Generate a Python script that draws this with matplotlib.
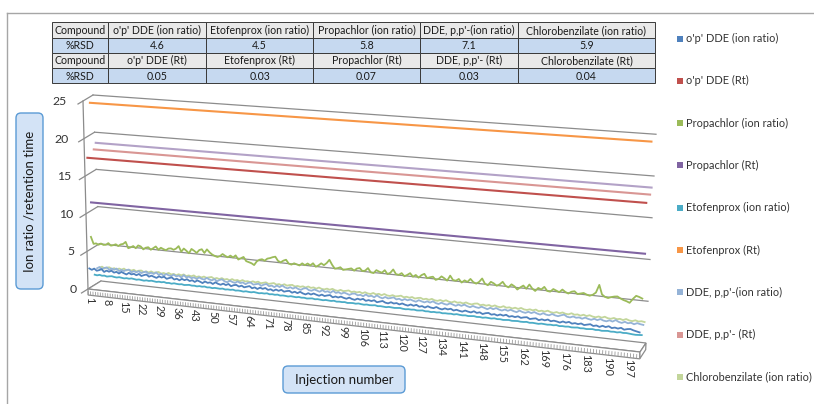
import numpy as np
import matplotlib
matplotlib.use("Agg")
import matplotlib.pyplot as plt
import matplotlib.transforms as mtransforms
from matplotlib.patches import Rectangle, FancyBboxPatch, Polygon
from matplotlib.collections import LineCollection

plt.rcParams['font.family'] = ['Lato', 'DejaVu Sans']

# ---- data ----
injections = np.arange(1, 201)

series_names = ["o'p' DDE (ion ratio)", "o'p' DDE (Rt)", "Propachlor (ion ratio)", "Propachlor (Rt)",
                "Etofenprox (ion ratio)", "Etofenprox (Rt)", "DDE, p,p'-(ion ratio)", "DDE, p,p'- (Rt)",
                "Chlorobenzilate (ion ratio)", "Chlorobenzilate (Rt)"]
series_colors = ['#4F81BD', '#C0504D', '#9BBB59', '#8064A2', '#4BACC6',
                 '#F79646', '#95B3D7', '#D99694', '#C3D69B', '#B3A2C7']

opdde_ion = [
    2.7, 2.55, 2.75, 2.5, 2.62, 2.78, 2.45, 2.66, 2.55, 2.72, 2.5, 2.64, 2.46, 2.7, 2.56, 2.44, 2.68, 2.52, 2.63, 2.48,
    2.68, 2.45, 2.6, 2.72, 2.47, 2.64, 2.52, 2.42, 2.66, 2.54, 2.68, 2.44, 2.58, 2.7, 2.46, 2.6, 2.43, 2.65, 2.52, 2.68,
    2.48, 2.62, 2.44, 2.67, 2.55, 2.4, 2.64, 2.5, 2.6, 2.43, 2.68, 2.52, 2.44, 2.62, 2.47, 2.65, 2.4, 2.57, 2.64, 2.46,
    2.62, 2.44, 2.55, 2.67, 2.43, 2.58, 2.41, 2.62, 2.5, 2.65, 2.44, 2.56, 2.4, 2.6, 2.47, 2.64, 2.44, 2.55, 2.62, 2.42,
    2.58, 2.44, 2.64, 2.48, 2.39, 2.58, 2.45, 2.62, 2.5, 2.41, 2.59, 2.45, 2.56, 2.64, 2.4, 2.54, 2.45, 2.6, 2.48, 2.41,
    2.59, 2.45, 2.38, 2.57, 2.48, 2.62, 2.41, 2.54, 2.46, 2.6, 2.39, 2.5, 2.62, 2.45, 2.4, 2.58, 2.46, 2.55, 2.42, 2.58,
    2.46, 2.39, 2.57, 2.45, 2.6, 2.41, 2.52, 2.38, 2.58, 2.46, 2.42, 2.6, 2.45, 2.38, 2.55, 2.46, 2.58, 2.4, 2.53, 2.44,
    2.38, 2.55, 2.46, 2.4, 2.58, 2.42, 2.53, 2.36, 2.5, 2.57, 2.4, 2.5, 2.38, 2.54, 2.44, 2.58, 2.39, 2.5, 2.42, 2.55,
    2.4, 2.5, 2.56, 2.38, 2.47, 2.54, 2.36, 2.5, 2.42, 2.56, 2.39, 2.5, 2.44, 2.35, 2.52, 2.42, 2.55, 2.38, 2.48, 2.4,
    2.52, 2.37, 2.46, 2.55, 2.38, 2.48, 2.35, 2.52, 2.41, 2.55, 2.37, 2.47, 2.39, 2.52, 2.34, 2.45, 2.5, 2.38, 2.3, 2.22]

propachlor_ion = [
    6.7, 5.8, 5.9, 5.75, 5.95, 5.8, 5.85, 6.1, 5.8, 5.9, 6.05, 5.85, 6.1, 6.2, 6.5, 5.7, 5.85, 6.05, 5.8, 6.2,
    6.1, 5.75, 6.0, 6.1, 5.8, 6.05, 6.3, 5.9, 6.2, 6.05, 5.95, 6.2, 6.25, 6.1, 6.3, 6.65, 5.95, 6.4, 6.15, 5.85,
    6.45, 6.25, 6.0, 6.4, 6.55, 6.1, 6.6, 6.25, 6.0, 5.85, 5.75, 5.9, 6.2, 6.0, 5.85, 6.1, 5.9, 6.2, 5.7, 5.9,
    6.1, 5.6, 5.5, 5.4, 5.2, 5.7, 5.95, 6.05, 5.9, 6.2, 6.3, 6.45, 6.55, 6.05, 5.9, 6.15, 6.3, 5.85, 5.75, 5.95,
    5.85, 5.75, 6.05, 5.85, 6.1, 5.9, 6.2, 5.8, 6.0, 6.3, 6.1, 6.4, 6.85, 6.25, 5.8, 5.9, 6.05, 5.75, 5.85, 5.95,
    6.05, 5.8, 6.1, 6.2, 5.85, 5.95, 6.3, 5.8, 5.75, 6.15, 6.0, 5.9, 6.25, 5.8, 6.0, 6.45, 5.9, 5.85, 6.1, 5.75,
    5.95, 6.2, 5.8, 6.05, 5.75, 6.1, 6.3, 5.8, 5.95, 6.05, 5.7, 5.85, 6.2, 6.0, 5.75, 6.4, 5.9, 5.85, 6.1, 5.7,
    6.0, 5.85, 6.25, 5.9, 5.75, 6.0, 6.45, 5.85, 5.7, 6.15, 6.0, 5.75, 5.95, 6.3, 5.85, 5.7, 6.1, 5.9, 5.55, 5.85,
    6.1, 5.75, 6.3, 5.85, 5.6, 6.0, 5.85, 6.2, 5.75, 5.7, 6.05, 5.9, 5.75, 6.1, 5.85, 5.7, 5.95, 6.05, 5.75, 5.85,
    5.95, 5.8, 5.7, 5.85, 6.15, 7.1, 6.0, 5.75, 5.65, 5.8, 5.9, 5.95, 5.75, 5.6, 5.5, 5.35, 5.85, 6.25, 6.15, 6.0]

etofenprox_ion = [
    1.45, 1.4, 1.5, 1.42, 1.47, 1.38, 1.45, 1.5, 1.43, 1.4, 1.48, 1.44, 1.39, 1.46, 1.42, 1.5, 1.45, 1.4, 1.47, 1.43,
    1.38, 1.46, 1.42, 1.49, 1.44, 1.4, 1.47, 1.43, 1.5, 1.41, 1.45, 1.39, 1.48, 1.44, 1.42, 1.47, 1.4, 1.45, 1.49, 1.43,
    1.46, 1.41, 1.48, 1.44, 1.5, 1.42, 1.46, 1.4, 1.47, 1.45, 1.43, 1.49, 1.41, 1.46, 1.44, 1.5, 1.42, 1.47, 1.45, 1.4,
    1.48, 1.44, 1.42, 1.5, 1.46, 1.41, 1.47, 1.45, 1.52, 1.43, 1.48, 1.44, 1.5, 1.42, 1.47, 1.45, 1.41, 1.49, 1.46, 1.43,
    1.5, 1.45, 1.48, 1.42, 1.47, 1.51, 1.44, 1.49, 1.46, 1.43, 1.5, 1.47, 1.45, 1.52, 1.44, 1.48, 1.46, 1.5, 1.43, 1.47,
    1.49, 1.45, 1.52, 1.47, 1.44, 1.5, 1.46, 1.48, 1.53, 1.45, 1.49, 1.47, 1.44, 1.51, 1.48, 1.46, 1.5, 1.53, 1.47, 1.45,
    1.5, 1.48, 1.52, 1.46, 1.49, 1.54, 1.47, 1.5, 1.45, 1.51, 1.48, 1.53, 1.46, 1.5, 1.49, 1.52, 1.47, 1.55, 1.5, 1.48,
    1.52, 1.47, 1.5, 1.54, 1.48, 1.51, 1.46, 1.53, 1.5, 1.48, 1.55, 1.49, 1.52, 1.47, 1.5, 1.54, 1.48, 1.51, 1.53, 1.49,
    1.5, 1.55, 1.48, 1.52, 1.5, 1.47, 1.54, 1.51, 1.49, 1.53, 1.5, 1.56, 1.48, 1.52, 1.5, 1.54, 1.49, 1.51, 1.55, 1.5,
    1.53, 1.49, 1.52, 1.56, 1.5, 1.54, 1.48, 1.52, 1.55, 1.5, 1.53, 1.49, 1.56, 1.51, 1.54, 1.5, 1.47, 1.45, 1.48, 1.5]

ddepp_ion = [
    2.1, 2.3, 2.05, 2.25, 2.35, 2.08, 2.28, 2.15, 2.34, 2.04, 2.24, 2.12, 2.3, 2.38, 2.06, 2.26, 2.14, 2.32, 2.1, 2.27,
    2.36, 2.12, 2.3, 2.17, 2.4, 2.13, 2.3, 2.08, 2.35, 2.2, 2.14, 2.38, 2.17, 2.32, 2.1, 2.45, 2.18, 2.34, 2.16, 2.3,
    2.13, 2.37, 2.22, 2.16, 2.42, 2.25, 2.17, 2.37, 2.12, 2.33, 2.45, 2.2, 2.15, 2.38, 2.24, 2.17, 2.4, 2.22, 2.34, 2.15,
    2.36, 2.44, 2.2, 2.3, 2.4, 2.16, 2.35, 2.48, 2.22, 2.34, 2.18, 2.42, 2.26, 2.5, 2.3, 2.2, 2.4, 2.25, 2.45, 2.28,
    2.2, 2.42, 2.5, 2.28, 2.24, 2.44, 2.34, 2.22, 2.47, 2.28, 2.4, 2.24, 2.52, 2.3, 2.43, 2.27, 2.46, 2.36, 2.24, 2.43,
    2.48, 2.3, 2.4, 2.26, 2.52, 2.32, 2.44, 2.28, 2.56, 2.36, 2.26, 2.47, 2.33, 2.42, 2.54, 2.32, 2.44, 2.28, 2.48, 2.36,
    2.5, 2.38, 2.3, 2.53, 2.42, 2.33, 2.5, 2.38, 2.58, 2.4, 2.32, 2.52, 2.4, 2.35, 2.56, 2.44, 2.33, 2.52, 2.4, 2.6,
    2.44, 2.35, 2.54, 2.43, 2.38, 2.57, 2.46, 2.34, 2.55, 2.42, 2.6, 2.45, 2.37, 2.54, 2.42, 2.58, 2.45, 2.37, 2.6, 2.46,
    2.4, 2.57, 2.45, 2.62, 2.47, 2.39, 2.6, 2.46, 2.42, 2.62, 2.49, 2.43, 2.58, 2.7, 2.48, 2.44, 2.6, 2.48, 2.56, 2.44,
    2.62, 2.5, 2.43, 2.6, 2.47, 2.64, 2.5, 2.45, 2.61, 2.5, 2.72, 2.54, 2.46, 2.63, 2.5, 2.6, 2.46, 2.63, 2.55, 2.5]

chloro_ion = [
    1.98, 2.14, 1.92, 2.08, 2.16, 1.96, 2.12, 1.95, 2.14, 2.03, 2.2, 1.99, 2.13, 2.04, 2.19, 2.0, 2.14, 2.2, 2.03, 2.16,
    2.04, 2.23, 2.08, 2.17, 2.26, 2.07, 2.2, 2.1, 2.28, 2.11, 2.22, 2.07, 2.25, 2.14, 2.3, 2.11, 2.24, 2.16, 2.32, 2.13,
    2.26, 2.15, 2.31, 2.18, 2.28, 2.36, 2.17, 2.3, 2.2, 2.36, 2.21, 2.32, 2.19, 2.38, 2.24, 2.34, 2.21, 2.4, 2.26, 2.33,
    2.23, 2.39, 2.28, 2.42, 2.25, 2.35, 2.44, 2.27, 2.37, 2.46, 2.29, 2.4, 2.27, 2.46, 2.31, 2.42, 2.48, 2.31, 2.42, 2.34,
    2.45, 2.33, 2.5, 2.36, 2.46, 2.33, 2.52, 2.38, 2.35, 2.49, 2.38, 2.54, 2.4, 2.35, 2.52, 2.4, 2.47, 2.56, 2.39, 2.5,
    2.42, 2.53, 2.39, 2.56, 2.44, 2.41, 2.58, 2.43, 2.55, 2.41, 2.6, 2.46, 2.43, 2.57, 2.45, 2.52, 2.62, 2.45, 2.56, 2.48,
    2.6, 2.45, 2.56, 2.62, 2.47, 2.58, 2.48, 2.64, 2.5, 2.47, 2.61, 2.5, 2.66, 2.52, 2.47, 2.64, 2.51, 2.59, 2.49, 2.66,
    2.54, 2.49, 2.63, 2.68, 2.51, 2.62, 2.53, 2.65, 2.51, 2.68, 2.56, 2.53, 2.7, 2.55, 2.64, 2.53, 2.67, 2.56, 2.72, 2.58,
    2.55, 2.67, 2.58, 2.72, 2.55, 2.66, 2.58, 2.74, 2.6, 2.55, 2.69, 2.58, 2.72, 2.6, 2.57, 2.74, 2.6, 2.68, 2.57, 2.72,
    2.6, 2.74, 2.62, 2.57, 2.71, 2.6, 2.76, 2.62, 2.59, 2.73, 2.62, 2.7, 2.6, 2.76, 2.63, 2.59, 2.73, 2.62, 2.7, 2.64]

# retention times are flat over the run
opdde_rt = [17.33] * 200
propachlor_rt = [11.2] * 200
etofenprox_rt = [24.33] * 200
ddepp_rt = [17.92] * 200
chloro_rt = [18.63] * 200

series_values = [opdde_ion, opdde_rt, propachlor_ion, propachlor_rt, etofenprox_ion,
                 etofenprox_rt, ddepp_ion, ddepp_rt, chloro_ion, chloro_rt]

y_ticks = [0, 5, 10, 15, 20, 25]
x_tick_labels = list(range(1, 201, 7))

table_rows = [
    ['Compound', "o'p' DDE (ion ratio)", 'Etofenprox (ion ratio)', 'Propachlor (ion ratio)',
     "DDE, p,p'-(ion ratio)", 'Chlorobenzilate (ion ratio)'],
    ['%RSD', '4.6', '4.5', '5.8', '7.1', '5.9'],
    ['Compound', "o'p' DDE (Rt)", 'Etofenprox (Rt)', 'Propachlor (Rt)', "DDE, p,p'- (Rt)", 'Chlorobenzilate (Rt)'],
    ['%RSD', '0.05', '0.03', '0.07', '0.03', '0.04'],
]

# ---- 3d-ish perspective like the excel chart (pixel space) ----
X_LO, X_HI = 0.5, 200.5
PERSP_W = 1.13


def project(x, v, z):
    x = np.asarray(x, float)
    v = np.asarray(v, float)
    t = (x - X_LO) / (X_HI - X_LO)
    tp = t / (t + PERSP_W * (1 - t))
    lx = (1 - z) * (88 - 0.2 * v) + z * (101 - 0.32 * v)
    ly = (1 - z) * (289 - 7.52 * v) + z * (281 - 7.44 * v)
    rx = (1 - z) * (640 + 0.4 * v) + z * (646 + 0.4 * v)
    ry = (1 - z) * (352 - 8.55 * v) + z * (343 - 8.35 * v)
    return lx + (rx - lx) * tp, ly + (ry - ly) * tp


class DepthProjection(mtransforms.Transform):
    input_dims = 2
    output_dims = 2
    is_separable = False
    has_inverse = False

    def __init__(self, z):
        super().__init__()
        self.z = z

    def transform_non_affine(self, values):
        values = np.asarray(values, float)
        px, py = project(values[:, 0], values[:, 1], self.z)
        return np.column_stack([px, py])


W, H = 814, 404
fig = plt.figure(figsize=(W / 100, H / 100), dpi=100)
ax = fig.add_axes([0, 0, 1, 1])
ax.set_autoscale_on(False)
ax.set_xlim(0, W)
ax.set_ylim(H, 0)
ax.axis('off')

grid_c = '#8c8c8c'

# chart border
ax.plot([7, W], [12.7, 12.7], color='#a6a6a6', lw=1.0)
ax.plot([7, 7], [12.7, H], color='#a6a6a6', lw=1.0)

# back wall + side wall gridlines
for v in y_ticks[1:]:
    ax.plot([X_LO, X_HI], [v, v], color=grid_c, lw=0.9, transform=DepthProjection(1.0) + ax.transData, zorder=1)
for v in y_ticks:
    sx0, sy0 = project(X_LO, v, -0.5)
    sx1, sy1 = project(X_LO, v, 1.0)
    ax.plot([sx0, sx1], [sy0, sy1], color=grid_c, lw=0.9, zorder=1)
    lx = project(X_LO, v, 0)[0] - 11 - 0.2 * v
    ax.text(lx, project(X_LO, v, 0)[1] + 0.5, str(v), ha='right', va='center', fontsize=8.8, color='#333333')
# y axis edge
ax.plot([X_LO, X_LO], [0, 25], color=grid_c, lw=0.9, transform=DepthProjection(0.0) + ax.transData, zorder=1)

# floor slab
slab = -0.8
faces = [
    [(X_LO, 0, 0), (X_HI, 0, 0), (X_HI, 0, 1), (X_LO, 0, 1)],
    [(X_LO, 0, 0), (X_HI, 0, 0), (X_HI, slab, 0), (X_LO, slab, 0)],
    [(X_HI, 0, 0), (X_HI, 0, 1), (X_HI, slab, 1), (X_HI, slab, 0)],
]
for face in faces:
    pts = [project(px, pv, pz) for px, pv, pz in face]
    ax.add_patch(Polygon(pts, closed=True, facecolor='white', edgecolor=grid_c, lw=0.9, zorder=1.5))
segs = []
for i in range(201):
    a = project(X_LO + i, slab * 0.35, 0)
    b = project(X_LO + i, slab, 0)
    segs.append([a, b])
ax.add_collection(LineCollection(segs, colors='#9a9a9a', linewidths=0.6, zorder=1.6))

for lab in x_tick_labels:
    px, py = project(lab, slab, 0)
    ax.text(px, py + 1.5, str(lab), rotation=-90, ha='center', va='top', fontsize=7.8, color='#333333')

# series lines, back to front
for i in reversed(range(len(series_values))):
    z = (i + 0.5) / 10
    lw = 1.5 if i % 2 else 1.3
    ax.plot(injections, series_values[i], color=series_colors[i], lw=lw,
            transform=DepthProjection(z) + ax.transData, zorder=3 + (9 - i) * 0.1, clip_on=False,
            solid_joinstyle='round')

# axis title boxes
ax.add_patch(FancyBboxPatch((16, 113), 27, 176, boxstyle='round,pad=0,rounding_size=5',
                            facecolor='#d3e3f6', edgecolor='#5b9bd5', lw=1.0, zorder=2))
ax.text(29.5, 201, 'Ion ratio /retention time', rotation=90, ha='center', va='center', fontsize=9.5,
        color='#1a1a1a', zorder=3)
ax.add_patch(FancyBboxPatch((283, 366), 122, 27, boxstyle='round,pad=0,rounding_size=5',
                            facecolor='#d3e3f6', edgecolor='#5b9bd5', lw=1.0, zorder=2))
ax.text(344, 379.5, 'Injection number', ha='center', va='center', fontsize=9.5, color='#1a1a1a', zorder=3)

# RSD table
col_edges = [52, 108, 206, 313, 420, 518, 655]
row_top, row_h = 22.3, 15.2
row_fill = ['#e9e9e9', '#c6d9f0', '#e9e9e9', '#c6d9f0']
for r, row in enumerate(table_rows):
    y0 = row_top + r * row_h
    for c, txt in enumerate(row):
        x0, x1 = col_edges[c], col_edges[c + 1]
        ax.add_patch(Rectangle((x0, y0), x1 - x0, row_h, facecolor=row_fill[r], edgecolor='#3a3a3a',
                               lw=0.7, zorder=2))
        ax.text((x0 + x1) / 2, y0 + row_h / 2 + 0.5, txt, ha='center', va='center', fontsize=7.6,
                color='#1a1a1a', zorder=3)

# legend on the right: only the first nine keys fit in the picture
for i, (name, col) in enumerate(zip(series_names[:9], series_colors[:9])):
    yc = 38.5 + 42.3 * i
    ax.add_patch(Rectangle((677, yc - 3), 6, 6, facecolor=col, edgecolor='none', zorder=3))
    ax.text(686, yc, name, ha='left', va='center', fontsize=7.9, color='#333333', zorder=3)

fig.savefig('out.png', dpi=100)
